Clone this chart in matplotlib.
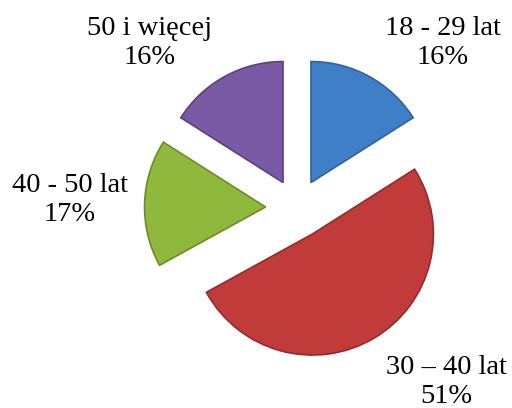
import matplotlib.pyplot as plt

# age groups and shares (%)
categories = ["18 - 29 lat", "30 – 40 lat", "40 - 50 lat", "50 i więcej"]
shares = [16, 51, 17, 16]
colors = ["#3f7fc8", "#c23b3b", "#8fb83c", "#7a5aa5"]
edges = ["#2f62a0", "#962a2a", "#6c8c2a", "#5b4080"]

R = 121  # pie radius in pixels
explode = [0.24 * R, 0.25 * R, 0.26 * R, 0.24 * R]

# where each label sits (pixels, origin bottom-left)
label_xy = [(443, 365), (446, 26), (70, 208), (150, 365)]

fig = plt.figure(figsize=(5.12, 4.08), dpi=100)
ax = fig.add_axes([0, 0, 1, 1])

wedges, _ = ax.pie(shares, startangle=90, counterclock=False, colors=colors,
                   explode=explode, radius=R, center=(297, 200),
                   wedgeprops=dict(linewidth=1.2), frame=True)
for w, ec in zip(wedges, edges):
    w.set_edgecolor(ec)

for name, val, (x, y) in zip(categories, shares, label_xy):
    ax.text(x, y, f"{name}\n{val}%", ha="center", va="center",
            fontsize=20.5, family="Liberation Serif", linespacing=1.25)

ax.set_xlim(0, 512)
ax.set_ylim(0, 408)
ax.set_aspect("equal")
ax.axis("off")
fig.savefig("out.png", dpi=100)
